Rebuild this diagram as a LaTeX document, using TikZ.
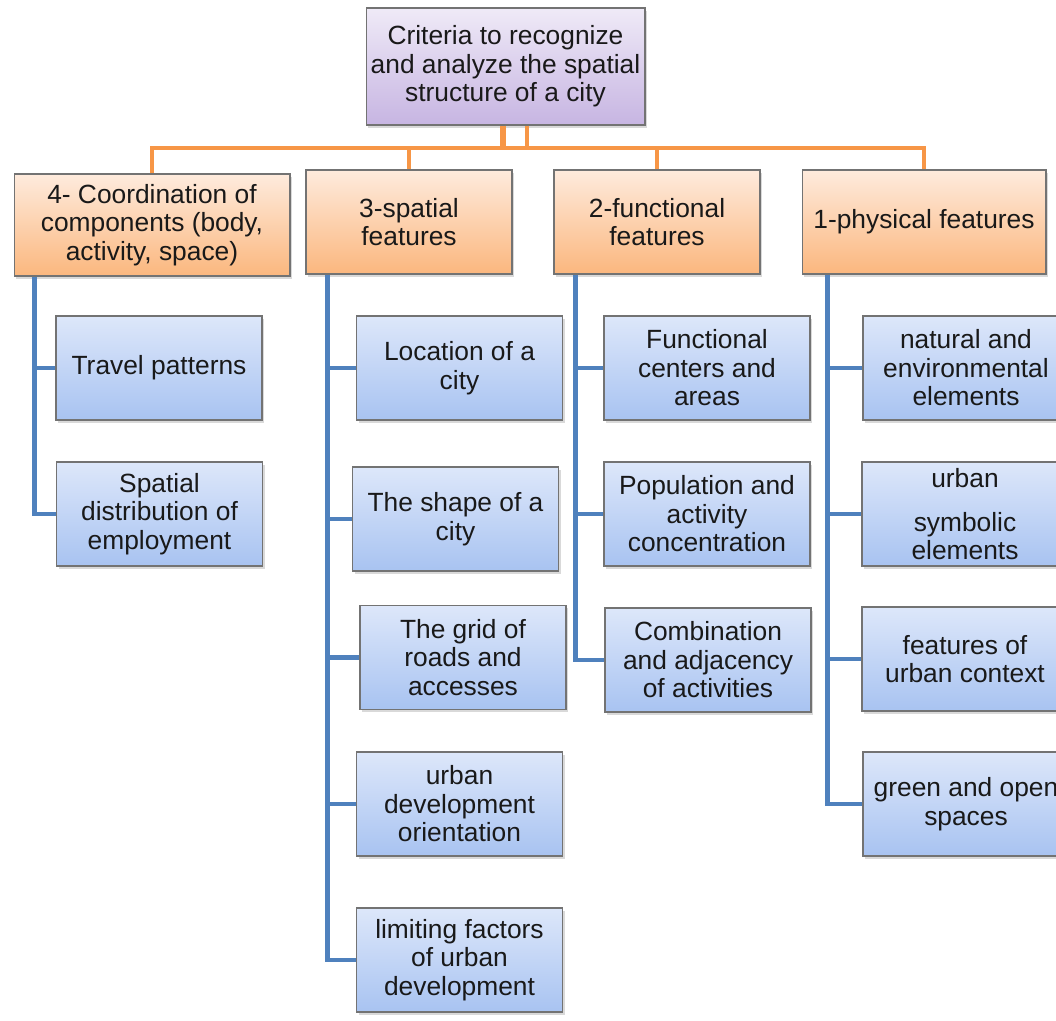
\documentclass[tikz,border=0pt]{standalone}
\usepackage{fontspec}
\setmainfont{Liberation Sans}
\usetikzlibrary{shadows}
\definecolor{rtop}{HTML}{EFEAF7}
\definecolor{rbot}{HTML}{C7B5E2}
\definecolor{otop}{HTML}{FEEBDD}
\definecolor{obot}{HTML}{FBB77E}
\definecolor{btop}{HTML}{DDE7FA}
\definecolor{bbot}{HTML}{A8C3F1}
\definecolor{oline}{HTML}{F79646}
\definecolor{bline}{HTML}{4F81BD}

\begin{document}
\begin{tikzpicture}[x=0.02cm,y=-0.02cm]
      \useasboundingbox(0,0) rectangle (1056,1021);
      \tikzset{box/.style = {shape=rectangle, draw=black!55, line width=0.6pt, align=center, text=black!90,
          font=\fontsize{15}{16.2}\selectfont, inner sep=1pt,
          drop shadow={shadow xshift=1.2pt, shadow yshift=-1.6pt, opacity=0.3}}}
      \tikzset{R/.style = {box, top color=rtop, bottom color=rbot, minimum width=5.58cm, minimum height=2.34cm}}
      \tikzset{H/.style = {box, top color=otop, bottom color=obot, minimum width=4.12cm, minimum height=2.08cm}}
      \tikzset{L/.style = {box, top color=btop, bottom color=bbot, minimum width=4.12cm, minimum height=2.08cm}}
      \tikzset{E/.style = {draw=oline, line width=2.3pt}}
      \tikzset{B/.style = {draw=bline, line width=2.3pt}}
      %% root
      \node[R](root) at (505.5,66.5) {Criteria to recognize\\and analyze the spatial\\structure of a city};
      %% headings
      \node[H,minimum width=5.52cm,minimum height=2.04cm](h4) at (152,225) {4- Coordination of\\components (body,\\activity, space)};
      \node[H](h3) at (409,222) {3-spatial\\features};
      \node[H](h2) at (657,222) {2-functional\\features};
      \node[H,minimum width=4.88cm](h1) at (924,222) {1-physical features};
      %% column 4
      \node[L](x40) at (159,368) {Travel patterns};
      \node[L](x41) at (159.5,514) {Spatial\\distribution of\\employment};
      %% column 3
      \node[L](x30) at (459.5,368) {Location of a\\city};
      \node[L](x31) at (455.5,519) {The shape of a\\city};
      \node[L](x32) at (463,657.5) {The grid of\\roads and\\accesses};
      \node[L](x33) at (459.5,804) {urban\\development\\orientation};
      \node[L](x34) at (459.5,960) {limiting factors\\of urban\\development};
      %% column 2
      \node[L](x20) at (707,368) {Functional\\centers and\\areas};
      \node[L](x21) at (707,514) {Population and\\activity\\concentration};
      \node[L](x22) at (708,660) {Combination\\and adjacency\\of activities};
      %% column 1
      \node[L](x10) at (966,368) {natural and\\environmental\\elements};
      \node[L](x11) at (965,514) {urban\\[9pt]symbolic\\elements};
      \node[L](x12) at (965,659) {features of\\urban context};
      \node[L](x13) at (966,804) {green and open\\spaces};
      %% orange tree
      \coordinate (bus) at (505,148);
      \coordinate (r1) at (503,148);
      \coordinate (r2) at (527,148);
      \draw[E](h4.north) |- (bus) -| (h1.north);
      \draw[E](h3.north) -- (h3.north |- bus);
      \draw[E](h2.north) -- (h2.north |- bus);
      \draw[E,line width=3.4pt](r1 |- root.south) -- (r1);
      \draw[E](r2 |- root.south) -- (r2);
      %% blue branches
      \draw[B](h4.south west) ++(21,0) coordinate (b4) |- (x41.west) (b4 |- x40.west) -- (x40.west);
      \draw[B](h3.south west) ++(22,0) coordinate (b3) |- (x34.west)
        (b3 |- x30.west) -- (x30.west) (b3 |- x31.west) -- (x31.west)
        (b3 |- x32.west) -- (x32.west) (b3 |- x33.west) -- (x33.west);
      \draw[B](h2.south west) ++(22,0) coordinate (b2) |- (x22.west)
        (b2 |- x20.west) -- (x20.west) (b2 |- x21.west) -- (x21.west);
      \draw[B](h1.south west) ++(26,0) coordinate (b1) |- (x13.west)
        (b1 |- x10.west) -- (x10.west) (b1 |- x11.west) -- (x11.west)
        (b1 |- x12.west) -- (x12.west);
    \end{tikzpicture}
\end{document}
